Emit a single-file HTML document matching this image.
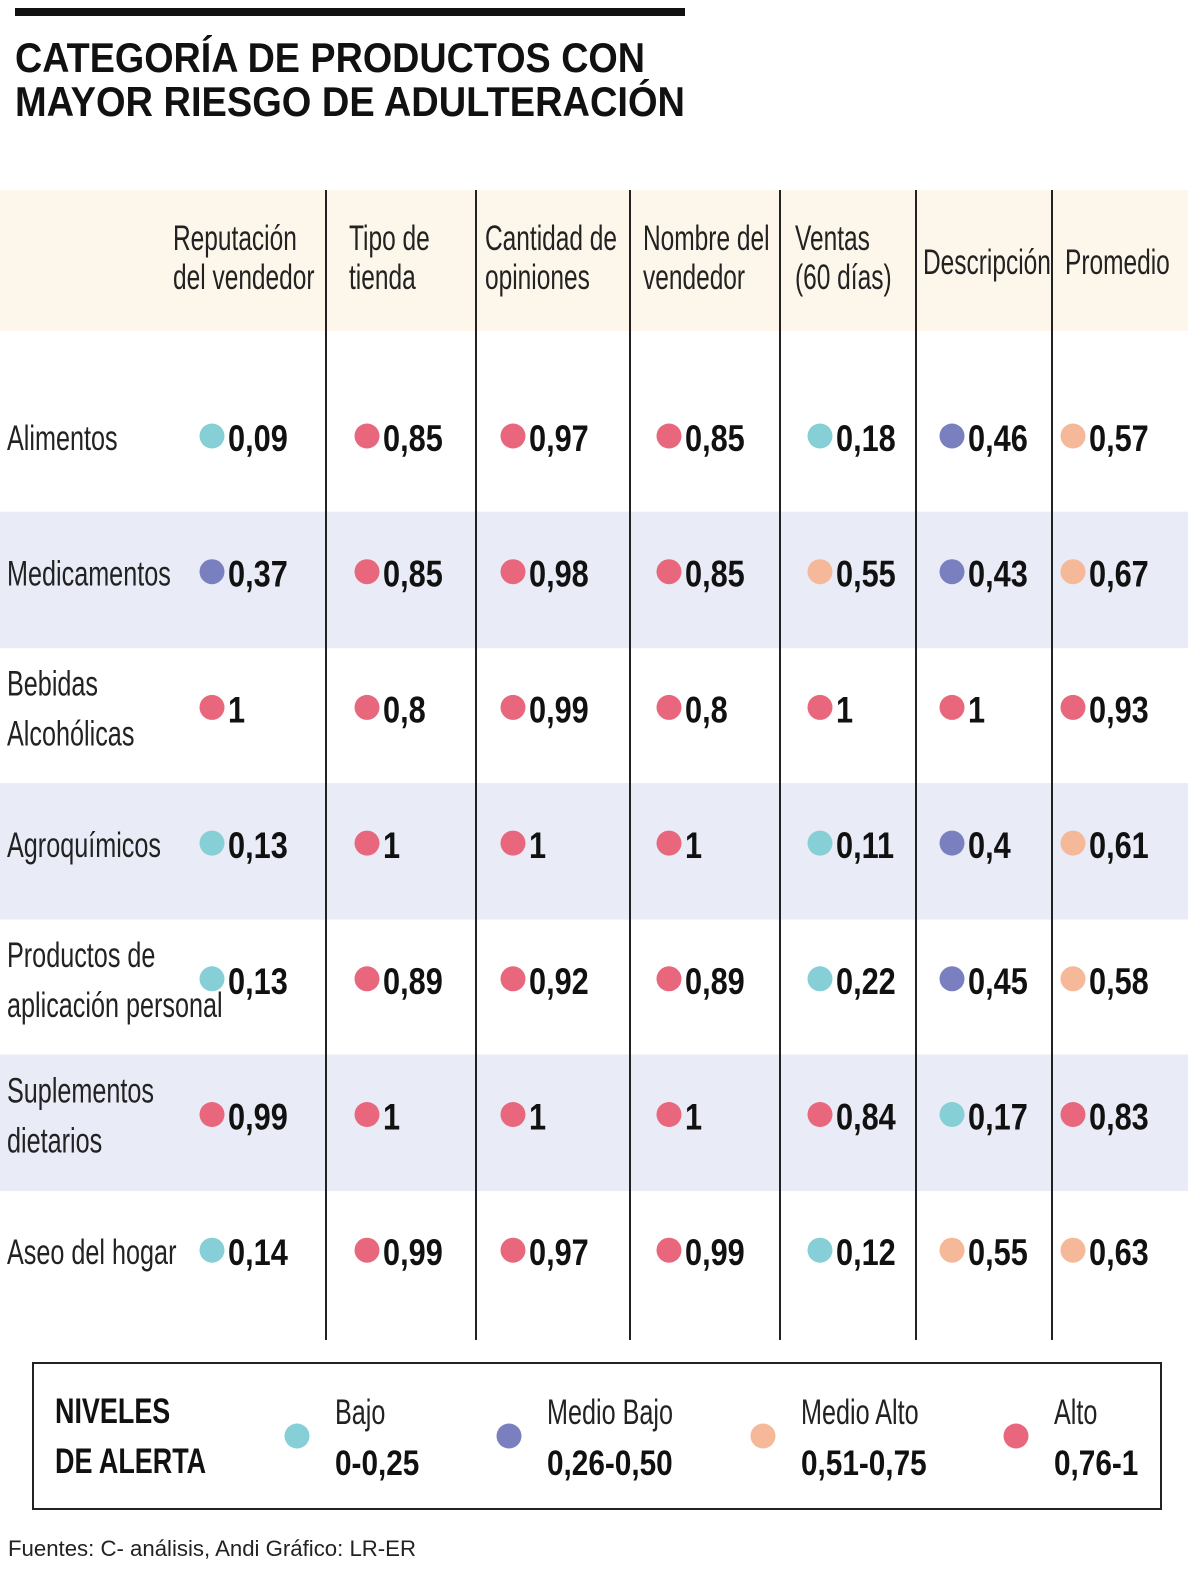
<!DOCTYPE html>
<html><head><meta charset="utf-8">
<style>
html,body{margin:0;padding:0;background:#fff;}
svg{display:block;}
text{font-family:"Liberation Sans Narrow","Liberation Sans",sans-serif;}
</style></head>
<body>
<svg id="chart" width="1200" height="1585" viewBox="0 0 1200 1585" xmlns="http://www.w3.org/2000/svg">
  <rect x="15" y="8" width="670" height="8" fill="#111"/>
  <text x="15" y="72" font-size="42" font-weight="bold" fill="#111" textLength="630" lengthAdjust="spacingAndGlyphs">CATEGORÍA DE PRODUCTOS CON</text>
  <text x="15" y="116" font-size="42" font-weight="bold" fill="#111" textLength="670" lengthAdjust="spacingAndGlyphs">MAYOR RIESGO DE ADULTERACIÓN</text>
  <rect x="0" y="190" width="1188" height="141" fill="#fdf6ea"/>
  <g id="bands"></g>
  <g id="headers"></g>
  <g id="lines"></g>
  <g id="cells"></g>
  <rect x="33" y="1363" width="1128" height="146" fill="none" stroke="#222" stroke-width="2"/>
  <text font-size="35" font-weight="bold" fill="#111" transform="matrix(0.77,0,0,1,12.65,0)"><tspan x="55" y="1423">NIVELES</tspan><tspan x="55" y="1473">DE ALERTA</tspan></text>
  <g id="legend"></g>
  <text x="8" y="1556" font-size="22" fill="#222" textLength="408" lengthAdjust="spacingAndGlyphs">Fuentes: C- análisis, Andi  Gráfico: LR-ER</text>
</svg>
<script>
const NS = "http://www.w3.org/2000/svg";
const columns = [["Reputación","del vendedor"],["Tipo de","tienda"],["Cantidad de","opiniones"],["Nombre del","vendedor"],["Ventas","(60 días)"],["Descripción"],["Promedio"]];
const categories = [["Alimentos"],["Medicamentos"],["Bebidas","Alcohólicas"],["Agroquímicos"],["Productos de","aplicación personal"],["Suplementos","dietarios"],["Aseo del hogar"]];
const values = [
  [0.09,0.85,0.97,0.85,0.18,0.46,0.57],
  [0.37,0.85,0.98,0.85,0.55,0.43,0.67],
  [1,0.8,0.99,0.8,1,1,0.93],
  [0.13,1,1,1,0.11,0.4,0.61],
  [0.13,0.89,0.92,0.89,0.22,0.45,0.58],
  [0.99,1,1,1,0.84,0.17,0.83],
  [0.14,0.99,0.97,0.99,0.12,0.55,0.63]
];
const levelNames = ["Bajo","Medio Bajo","Medio Alto","Alto"];
const levelRanges = ["0-0,25","0,26-0,50","0,51-0,75","0,76-1"];
const levelColors = ["#86cfd6","#7a80bf","#f5b898","#e8677c"];

const colLines = [326,476,630,780,916,1052];
const headerX = [173,349,485,643,795,923,1065];
const dotX = [212,367,513,669,820,952,1073];
const rowY0 = 438, rowStep = 135.7;
function rowY(i){return rowY0 + i*rowStep;}
function level(v){return v<=0.25?0:v<=0.5?1:v<=0.75?2:3;}
function fmt(v){return String(v).replace('.',',');}
function el(tag, attrs, parent){const e=document.createElementNS(NS,tag);for(const k in attrs)e.setAttribute(k,attrs[k]);parent.appendChild(e);return e;}
function squeeze(e,x,s){e.setAttribute('transform','matrix('+s+',0,0,1,'+(x*(1-s))+',0)');}

const bands=document.getElementById('bands');
for(let i=1;i<categories.length;i+=2){
  const r=el('rect',{x:0,y:rowY(i)-62,width:1188,height:136.5,fill:'#e9ecf7'},bands);
  
  
}
const lines=document.getElementById('lines');
colLines.forEach(x=>{
  const l=el('line',{x1:x,x2:x,y1:190,y2:1340,stroke:'#222','stroke-width':2},lines);
  
  
});
const headers=document.getElementById('headers');
columns.forEach((c,j)=>{
  const t=el('text',{'font-size':35,fill:'#222'},headers);
  
  
  squeeze(t,headerX[j],0.7);
  const ys=c.length===2?[250,289]:[274];
  c.forEach((s,k)=>{const ts=el('tspan',{x:headerX[j],y:ys[k]},t);ts.textContent=s;});
});
const cells=document.getElementById('cells');
categories.forEach((c,i)=>{
  const y=rowY(i);
  const t=el('text',{'font-size':35,fill:'#222'},cells);
  
  
  squeeze(t,7,0.72);
  const ys=c.length===2?[y-14,y+36]:[y+12];
  c.forEach((s,k)=>{const ts=el('tspan',{x:7,y:ys[k]},t);ts.textContent=s;});
  values[i].forEach((v,j)=>{
    const d=el('circle',{cx:dotX[j],cy:y-2,r:12.5,fill:levelColors[level(v)]},cells);
    
    
    const vx=dotX[j]+16;
    const vt=el('text',{x:vx,y:y+13,'font-size':37,'font-weight':'bold',fill:'#111'},cells);
    
    
    squeeze(vt,vx,0.83);
    vt.textContent=fmt(v);
  });
});
const legend=document.getElementById('legend');
const legX=[297,509,763,1016];
levelNames.forEach((n,k)=>{
  const d=el('circle',{cx:legX[k],cy:1436,r:12.5,fill:levelColors[k]},legend);
  
  
  const tx=legX[k]+38;
  const t=el('text',{x:tx,y:1424,'font-size':35,fill:'#222'},legend);
  
  
  squeeze(t,tx,0.72);
  t.textContent=n;
  const r=el('text',{x:tx,y:1475,'font-size':35,'font-weight':'bold',fill:'#111'},legend);
  
  
  squeeze(r,tx,0.85);
  r.textContent=levelRanges[k];
});
</script>
</body></html>
